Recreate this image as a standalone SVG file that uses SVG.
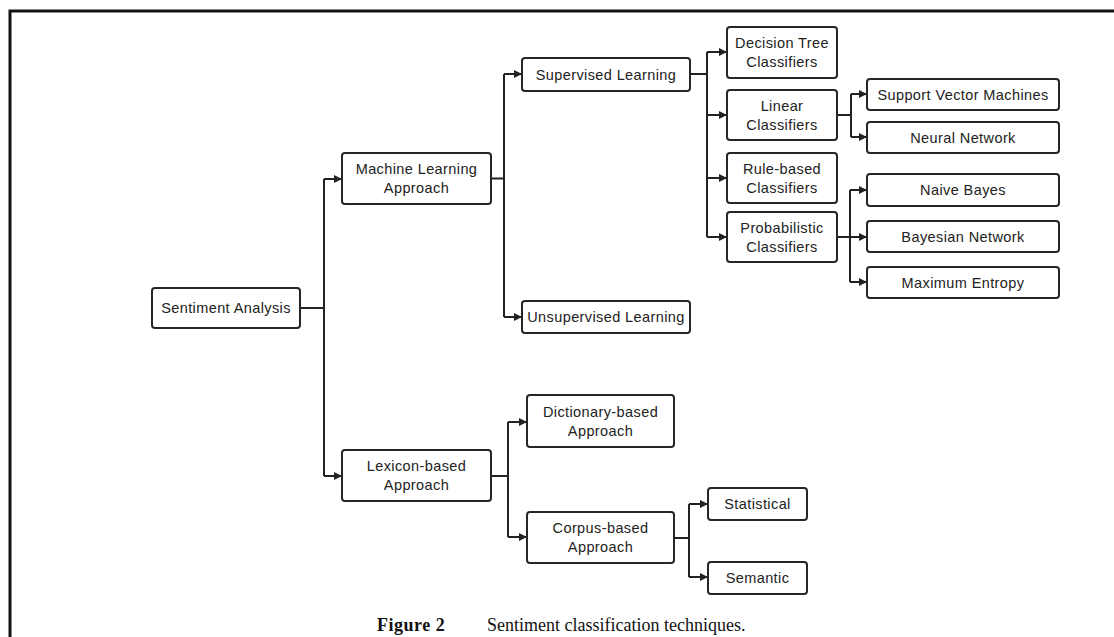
<svg xmlns="http://www.w3.org/2000/svg" width="1114" height="637" viewBox="0 0 1114 637">
<defs>
<style>
.box{fill:#fff;stroke:#262626;stroke-width:2}
.t{font-family:"Liberation Sans",Arial,sans-serif;font-size:14.5px;letter-spacing:0.4px;fill:#222;text-anchor:middle}
.c{fill:none;stroke:#222;stroke-width:2}
.cap{font-family:"Liberation Serif","Times New Roman",serif;font-size:18px;fill:#111}
</style>
<marker id="ah" markerWidth="8" markerHeight="8" refX="7" refY="4" orient="auto" markerUnits="userSpaceOnUse">
<path d="M0,0 L8,4 L0,8 Z" fill="#222"/>
</marker>
</defs>
<rect width="1114" height="637" fill="#fff"/>
<path d="M10,637 V11 H1114" fill="none" stroke="#111" stroke-width="3"/>

<g id="connectors">
<path class="c" d="M300,308 H324"/>
<path class="c" d="M324,179 V476"/>
<path class="c" d="M324,179 H341" marker-end="url(#ah)"/>
<path class="c" d="M324,476 H341" marker-end="url(#ah)"/>
<path class="c" d="M491,178.5 H504"/>
<path class="c" d="M504,74 V317"/>
<path class="c" d="M504,74 H521" marker-end="url(#ah)"/>
<path class="c" d="M504,317 H521" marker-end="url(#ah)"/>
<path class="c" d="M690,74 H707"/>
<path class="c" d="M707,52 V237"/>
<path class="c" d="M707,52 H726" marker-end="url(#ah)"/>
<path class="c" d="M707,115 H726" marker-end="url(#ah)"/>
<path class="c" d="M707,178 H726" marker-end="url(#ah)"/>
<path class="c" d="M707,237 H726" marker-end="url(#ah)"/>
<path class="c" d="M837,115 H851"/>
<path class="c" d="M851,94 V137"/>
<path class="c" d="M851,94 H866" marker-end="url(#ah)"/>
<path class="c" d="M851,137 H866" marker-end="url(#ah)"/>
<path class="c" d="M837,237 H866" marker-end="url(#ah)"/>
<path class="c" d="M850,190 V282"/>
<path class="c" d="M850,190 H866" marker-end="url(#ah)"/>
<path class="c" d="M850,282 H866" marker-end="url(#ah)"/>
<path class="c" d="M491,476 H508"/>
<path class="c" d="M508,422 V537"/>
<path class="c" d="M508,422 H526" marker-end="url(#ah)"/>
<path class="c" d="M508,537 H526" marker-end="url(#ah)"/>
<path class="c" d="M674,538 H689"/>
<path class="c" d="M689,504 V577"/>
<path class="c" d="M689,504 H707" marker-end="url(#ah)"/>
<path class="c" d="M689,577 H707" marker-end="url(#ah)"/>
</g>

<g id="sentiment-analysis"><rect class="box" x="152" y="288" width="148" height="40" rx="3"/><text class="t" x="226" y="313">Sentiment Analysis</text></g>
<g id="machine-learning"><rect class="box" x="342" y="153" width="149" height="51" rx="3"/><text class="t" x="416.5" y="174">Machine Learning</text><text class="t" x="416.5" y="193">Approach</text></g>
<g id="lexicon-based"><rect class="box" x="342" y="450" width="149" height="51" rx="3"/><text class="t" x="416.5" y="471">Lexicon-based</text><text class="t" x="416.5" y="490">Approach</text></g>
<g id="supervised"><rect class="box" x="522" y="58" width="168" height="33" rx="3"/><text class="t" x="606" y="79.5">Supervised Learning</text></g>
<g id="unsupervised"><rect class="box" x="522" y="301" width="168" height="32" rx="3"/><text class="t" x="606" y="322">Unsupervised Learning</text></g>
<g id="decision-tree"><rect class="box" x="727" y="27" width="110" height="51" rx="3"/><text class="t" x="782" y="48">Decision Tree</text><text class="t" x="782" y="67">Classifiers</text></g>
<g id="linear"><rect class="box" x="727" y="90" width="110" height="50" rx="3"/><text class="t" x="782" y="110.5">Linear</text><text class="t" x="782" y="129.5">Classifiers</text></g>
<g id="rule-based"><rect class="box" x="727" y="153" width="110" height="50" rx="3"/><text class="t" x="782" y="173.5">Rule-based</text><text class="t" x="782" y="192.5">Classifiers</text></g>
<g id="probabilistic"><rect class="box" x="727" y="212" width="110" height="50" rx="3"/><text class="t" x="782" y="232.5">Probabilistic</text><text class="t" x="782" y="251.5">Classifiers</text></g>
<g id="svm"><rect class="box" x="867" y="79" width="192" height="31" rx="3"/><text class="t" x="963" y="99.5">Support Vector Machines</text></g>
<g id="neural-network"><rect class="box" x="867" y="122" width="192" height="31" rx="3"/><text class="t" x="963" y="142.5">Neural Network</text></g>
<g id="naive-bayes"><rect class="box" x="867" y="174" width="192" height="32" rx="3"/><text class="t" x="963" y="195">Naive Bayes</text></g>
<g id="bayesian-network"><rect class="box" x="867" y="221" width="192" height="31" rx="3"/><text class="t" x="963" y="241.5">Bayesian Network</text></g>
<g id="maximum-entropy"><rect class="box" x="867" y="267" width="192" height="31" rx="3"/><text class="t" x="963" y="287.5">Maximum Entropy</text></g>
<g id="dictionary-based"><rect class="box" x="527" y="395" width="147" height="52" rx="3"/><text class="t" x="600.5" y="416.5">Dictionary-based</text><text class="t" x="600.5" y="435.5">Approach</text></g>
<g id="corpus-based"><rect class="box" x="527" y="512" width="147" height="51" rx="3"/><text class="t" x="600.5" y="533">Corpus-based</text><text class="t" x="600.5" y="552">Approach</text></g>
<g id="statistical"><rect class="box" x="708" y="488" width="99" height="32" rx="3"/><text class="t" x="757.5" y="509">Statistical</text></g>
<g id="semantic"><rect class="box" x="708" y="562" width="99" height="32" rx="3"/><text class="t" x="757.5" y="583">Semantic</text></g>

<text class="cap" x="377" y="631" font-weight="bold" letter-spacing="0.5">Figure 2</text>
<text class="cap" x="487" y="631">Sentiment classification techniques.</text>
</svg>
